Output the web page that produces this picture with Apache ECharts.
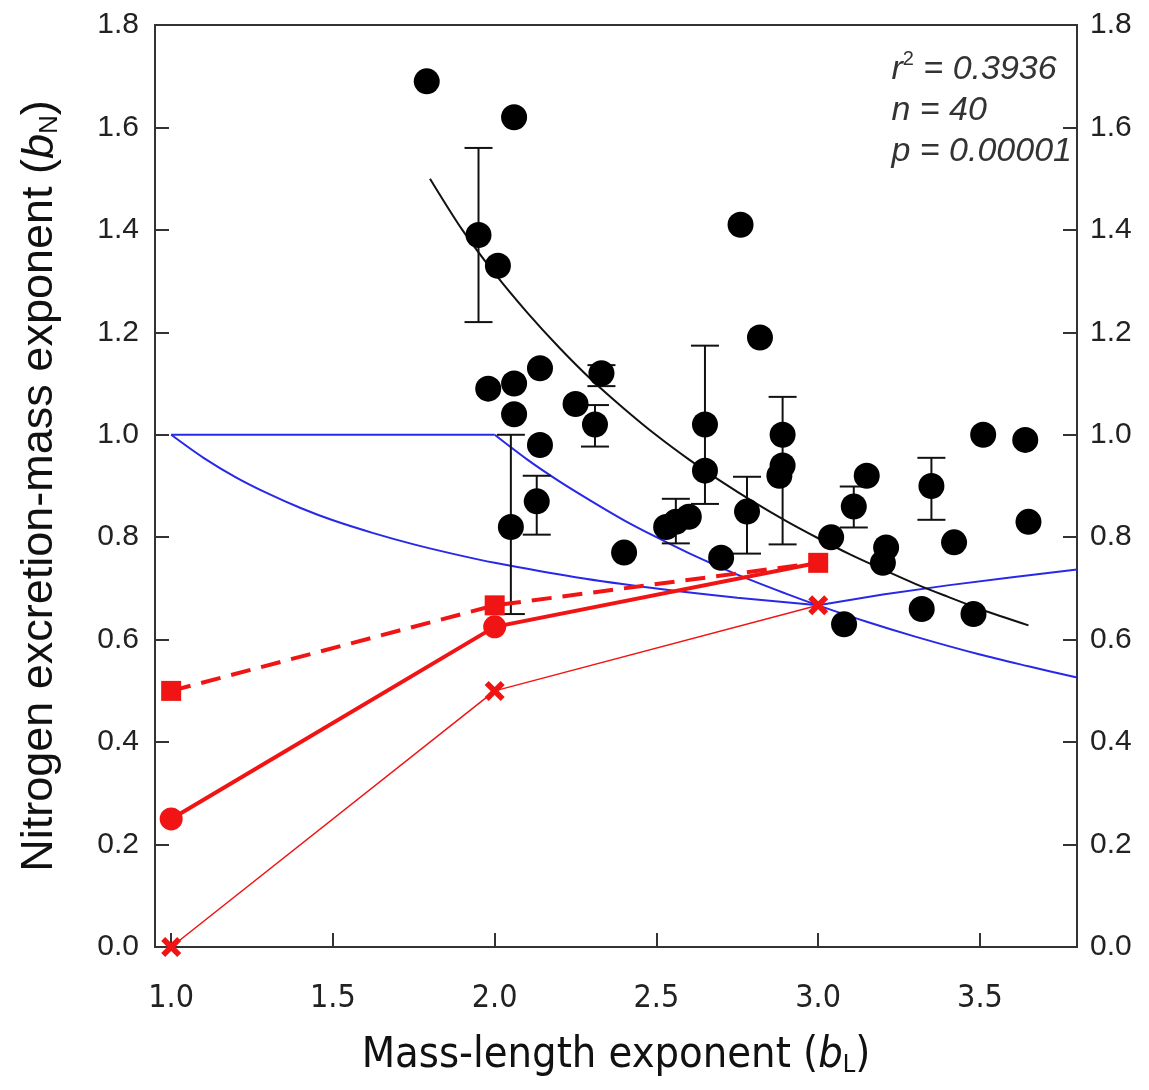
<!DOCTYPE html>
<html>
<head>
<meta charset="utf-8">
<script src="https://cdn.jsdelivr.net/npm/echarts@6/dist/echarts.min.js"></script>
<style>
    html, body {margin: 0; padding: 0; background: #fff;}
    #chart {width: 1149px; height: 1090px;}
</style>
</head>
<body>
<div id="chart"></div>
<script>
// observed points (b_L, b_N)
const dotX = [1.79, 2.06, 1.95, 2.01, 1.98, 2.06, 2.14, 2.06, 2.14, 2.05,
    2.13, 2.25, 2.31, 2.33, 2.40, 2.53, 2.56, 2.60, 2.65, 2.65,
    2.70, 2.76, 2.82, 2.78, 2.89, 2.89, 2.88, 3.04, 3.11, 3.15,
    3.08, 3.21, 3.20, 3.35, 3.42, 3.32, 3.48, 3.51, 3.64, 3.65];
const dotY = [1.69, 1.62, 1.39, 1.33, 1.09, 1.10, 1.13, 1.04, 0.98, 0.82,
    0.87, 1.06, 1.02, 1.12, 0.77, 0.82, 0.83, 0.84, 1.02, 0.93,
    0.76, 1.41, 1.19, 0.85, 1.00, 0.94, 0.92, 0.80, 0.86, 0.92,
    0.63, 0.78, 0.75, 0.90, 0.79, 0.66, 0.65, 1.00, 0.99, 0.83];

// error bars: x, low, high
const errX = [1.95, 2.05, 2.13, 2.31, 2.33, 2.56, 2.65, 2.78, 2.89, 3.11, 3.35];
const errLow = [1.22, 0.65, 0.805, 0.977, 1.095, 0.788, 0.865, 0.768, 0.786, 0.819, 0.834];
const errHigh = [1.56, 1.00, 0.92, 1.058, 1.136, 0.875, 1.174, 0.918, 1.074, 0.899, 0.955];

// fitted curve
const fitX = [1.80, 1.90, 2.00, 2.10, 2.20, 2.30, 2.40, 2.50, 2.60, 2.70, 2.80, 2.90, 3.00, 3.10, 3.20, 3.30, 3.40, 3.50, 3.65];
const fitY = [1.50, 1.40, 1.315, 1.239, 1.17, 1.107, 1.051, 0.999, 0.952, 0.909, 0.869, 0.832, 0.798, 0.766, 0.737, 0.709, 0.684, 0.660, 0.628];

// blue model lines
const blueFlatX = [1.0, 2.0];
const blueFlatY = [1.0, 1.0];
const blueUpperX = [2.0, 2.1, 2.2, 2.3, 2.4, 2.5, 2.6, 2.75, 2.9, 3.0, 3.15, 3.3, 3.5, 3.65, 3.8];
const blueUpperY = [1.0, 0.952, 0.909, 0.870, 0.833, 0.80, 0.769, 0.727, 0.690, 0.667, 0.635, 0.606, 0.571, 0.548, 0.526];
const blueLowerX = [1.0, 1.1, 1.2, 1.3, 1.4, 1.5, 1.625, 1.75, 1.875, 2.0, 2.25, 2.5, 2.75, 3.0];
const blueLowerY = [1.0, 0.955, 0.917, 0.885, 0.857, 0.833, 0.808, 0.786, 0.767, 0.75, 0.722, 0.70, 0.682, 0.667];
const blueRiseX = [3.0, 3.2, 3.4, 3.6, 3.8];
const blueRiseY = [0.667, 0.688, 0.706, 0.722, 0.737];

// red predictions
const redX = [1.0, 2.0, 3.0];
const redSquareY = [0.50, 0.667, 0.75];
const redCircleY = [0.25, 0.625, 0.75];
const redCrossY = [0.0, 0.50, 0.667];

const xTicks = [1.0, 1.5, 2.0, 2.5, 3.0, 3.5];

function zip(xs, ys) {
    return xs.map((x, i) => [x, ys[i]]);
}

const RED = '#f01414';
const BLUE = '#2828e8';
const AXIS = '#333';
const SANS = "'Liberation Sans', Arial, sans-serif";
const NARROW = "'Liberation Sans Narrow', 'DejaVu Sans Condensed', 'Liberation Sans', sans-serif";
const CROSS = 'path://M0,2 L2,0 L5,3 L8,0 L10,2 L7,5 L10,8 L8,10 L5,7 L2,10 L0,8 L3,5 Z';

function renderErrorBar(params, api) {
    const x = api.value(0);
    const top = api.coord([x, api.value(2)]);
    const bot = api.coord([x, api.value(1)]);
    const w = 14;
    const style = {stroke: '#111', lineWidth: 2};
    return {
        type: 'group',
        children: [
            {type: 'line', shape: {x1: top[0], y1: top[1], x2: bot[0], y2: bot[1]}, style: style},
            {type: 'line', shape: {x1: top[0] - w, y1: top[1], x2: top[0] + w, y2: top[1]}, style: style},
            {type: 'line', shape: {x1: bot[0] - w, y1: bot[1], x2: bot[0] + w, y2: bot[1]}, style: style}
        ]
    };
}

function blueLine(data, smooth) {
    return {
        type: 'line', data: data, smooth: smooth, symbol: 'none', z: 2,
        lineStyle: {color: BLUE, width: 2}
    };
}

const yLabel = {
    fontFamily: SANS, fontSize: 30, color: '#222',
    formatter: v => v.toFixed(1)
};

var chart = echarts.init(document.getElementById('chart'));

var option = {
    backgroundColor: '#fff',
    animation: false,
    grid: {
        left: 155, right: 72, top: 25, bottom: 143,
        show: true, borderColor: AXIS, borderWidth: 2,
        outerBoundsMode: 'none'
    },
    xAxis: {
        type: 'value', min: 0.95, max: 3.8,
        name: '{a|Mass-length exponent (}{i|b}{s|L}{a|)}',
        nameLocation: 'middle', nameGap: 87,
        nameTextStyle: {
            rich: {
                a: {fontFamily: NARROW, fontSize: 43, color: '#111'},
                i: {fontFamily: NARROW, fontStyle: 'italic', fontSize: 43, color: '#111'},
                s: {fontFamily: NARROW, fontSize: 25, color: '#111', verticalAlign: 'bottom', padding: [19, 0, 0, 0]}
            }
        },
        axisLine: {lineStyle: {color: AXIS, width: 2}},
        axisTick: {inside: true, length: 14, customValues: xTicks, lineStyle: {color: AXIS, width: 2}},
        axisLabel: {
            customValues: xTicks, margin: 36,
            fontFamily: NARROW, fontSize: 32, color: '#222',
            formatter: v => v.toFixed(1)
        },
        splitLine: {show: false}
    },
    yAxis: [{
        type: 'value', min: 0, max: 1.8, interval: 0.2,
        name: '{a|Nitrogen excretion-mass exponent (}{i|b}{s|N}{a|)}',
        nameLocation: 'middle', nameGap: 92, nameRotate: 90,
        nameTextStyle: {
            rich: {
                a: {fontFamily: SANS, fontSize: 45, color: '#111'},
                i: {fontFamily: SANS, fontStyle: 'italic', fontSize: 45, color: '#111'},
                s: {fontFamily: SANS, fontSize: 26, color: '#111', verticalAlign: 'bottom', padding: [20, 0, 0, 0]}
            }
        },
        axisLine: {show: true, lineStyle: {color: AXIS, width: 2}},
        axisTick: {show: true, inside: true, length: 14, lineStyle: {color: AXIS, width: 2}},
        axisLabel: Object.assign({margin: 16}, yLabel),
        splitLine: {show: false}
    }, {
        type: 'value', min: 0, max: 1.8, interval: 0.2, position: 'right',
        axisLine: {show: true, lineStyle: {color: AXIS, width: 2}},
        axisTick: {show: true, inside: true, length: 14, lineStyle: {color: AXIS, width: 2}},
        axisLabel: Object.assign({margin: 13}, yLabel),
        splitLine: {show: false}
    }],
    graphic: [{
        type: 'text', right: 77, top: 49,
        style: {
            text: '{i|r}{sup|2}{i| = 0.3936}\n{i|n = 40}\n{i|p = 0.00001}',
            align: 'right',
            rich: {
                i: {fontFamily: SANS, fontStyle: 'italic', fontSize: 34, fill: '#333', lineHeight: 41},
                sup: {fontFamily: SANS, fontSize: 20, fill: '#333', verticalAlign: 'top', lineHeight: 41}
            }
        }
    }],
    series: [
        blueLine(zip(blueFlatX, blueFlatY), false),
        blueLine(zip(blueUpperX, blueUpperY), 0.3),
        blueLine(zip(blueLowerX, blueLowerY), 0.3),
        blueLine(zip(blueRiseX, blueRiseY), false),
        {
            type: 'line', data: zip(fitX, fitY), smooth: 0.3, symbol: 'none', z: 3,
            lineStyle: {color: '#111', width: 2}
        },
        {
            type: 'custom', renderItem: renderErrorBar, z: 4,
            data: errX.map((x, i) => [x, errLow[i], errHigh[i]])
        },
        {
            type: 'scatter', data: zip(dotX, dotY), symbolSize: 26, z: 5,
            itemStyle: {color: '#000', opacity: 1}
        },
        {
            type: 'line', data: zip(redX, redCrossY), symbol: CROSS, symbolSize: 20, z: 6,
            lineStyle: {color: RED, width: 1.5}, itemStyle: {color: RED}, clip: false
        },
        {
            type: 'line', data: zip(redX, redCircleY), symbol: 'circle', z: 6,
            symbolSize: (v, p) => p.dataIndex === 2 ? 0 : 23,
            lineStyle: {color: RED, width: 4}, itemStyle: {color: RED}
        },
        {
            type: 'line', data: zip(redX, redSquareY), symbol: 'rect', symbolSize: 20, z: 7,
            lineStyle: {color: RED, width: 4, type: [20, 11]}, itemStyle: {color: RED}
        }
    ]
};

chart.setOption(option);
</script>
</body>
</html>
